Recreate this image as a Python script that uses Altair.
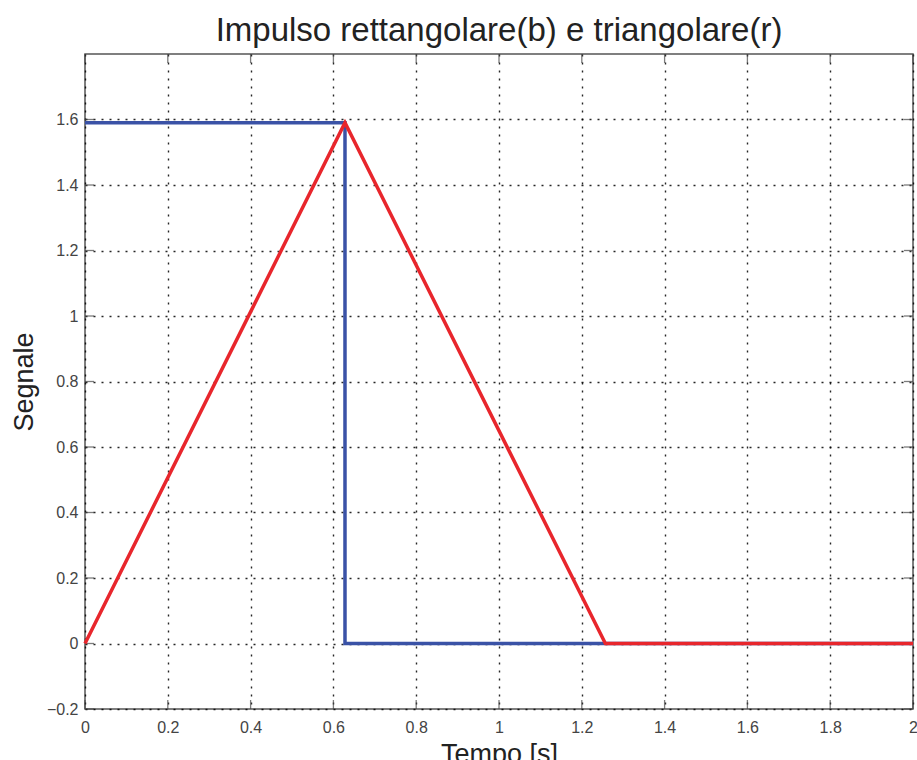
import altair as alt
import pandas as pd

# Rectangular pulse (blue) and triangular pulse (red), time in seconds
t_rect = [0.0, 0.628, 0.628, 2.0]
v_rect = [1.59, 1.59, 0.0, 0.0]
t_tri = [0.0, 0.628, 1.257, 2.0]
v_tri = [0.0, 1.59, 0.0, 0.0]

x_ticks = [0, 0.2, 0.4, 0.6, 0.8, 1.0, 1.2, 1.4, 1.6, 1.8, 2.0]
y_ticks = [-0.2, 0, 0.2, 0.4, 0.6, 0.8, 1.0, 1.2, 1.4, 1.6]

W, H = 828, 655

rect_df = pd.DataFrame({"t": t_rect, "v": v_rect, "i": range(len(t_rect))})
tri_df = pd.DataFrame({"t": t_tri, "v": v_tri, "i": range(len(t_tri))})
xt_df = pd.DataFrame({"t": x_ticks})
yt_df = pd.DataFrame({"v": y_ticks})

xscale = alt.Scale(domain=[0, 2], nice=False, zero=False)
yscale = alt.Scale(domain=[-0.2, 1.8], nice=False, zero=False)

x_axis = alt.Axis(
    values=x_ticks, format=".1~f", grid=True, tickSize=0, labelPadding=10,
    labelFontSize=16, labelColor="#444444", labelFont="Liberation Sans",
    title="Tempo [s]", titleFontSize=27, titleFontWeight="normal",
    titleFont="Liberation Sans", titleColor="#222222",
    titleBaseline="top", titleY=32,
    domain=False, labelOverlap=False, labelFlush=False,
)
y_axis = alt.Axis(
    values=y_ticks, format=".1~f", grid=True, tickSize=0, labelPadding=7,
    labelFontSize=16, labelColor="#444444", labelFont="Liberation Sans",
    title="Segnale", titleFontSize=27, titleFontWeight="normal",
    titleFont="Liberation Sans", titleColor="#222222",
    titleX=-47, titleY=H / 2, titleAngle=-90, titleBaseline="bottom",
    titleAlign="center",
    domain=False, labelOverlap=False,
)

rect_line = alt.Chart(rect_df).mark_line(
    color="#3a52a6", strokeWidth=3.5, strokeJoin="miter"
).encode(
    x=alt.X("t:Q", scale=xscale, axis=x_axis),
    y=alt.Y("v:Q", scale=yscale, axis=y_axis),
    order="i:O",
)

tri_line = alt.Chart(tri_df).mark_line(
    color="#e8262c", strokeWidth=3.5, strokeJoin="miter"
).encode(
    x=alt.X("t:Q", scale=xscale),
    y=alt.Y("v:Q", scale=yscale),
    order="i:O",
)

# Inward tick marks on all four sides of the frame
tick_style = dict(color="#444444", thickness=1.3, size=9)
bottom_ticks = alt.Chart(xt_df).mark_tick(orient="vertical", yOffset=-4.5, **tick_style).encode(
    x=alt.X("t:Q", scale=xscale), y=alt.datum(-0.2, scale=yscale)
)
top_ticks = alt.Chart(xt_df).mark_tick(orient="vertical", yOffset=4.5, **tick_style).encode(
    x=alt.X("t:Q", scale=xscale), y=alt.datum(1.8, scale=yscale)
)
left_ticks = alt.Chart(yt_df).mark_tick(orient="horizontal", xOffset=4.5, **tick_style).encode(
    y=alt.Y("v:Q", scale=yscale), x=alt.datum(0, scale=xscale)
)
right_ticks = alt.Chart(yt_df).mark_tick(orient="horizontal", xOffset=-4.5, **tick_style).encode(
    y=alt.Y("v:Q", scale=yscale), x=alt.datum(2, scale=xscale)
)

chart = alt.layer(
    bottom_ticks, top_ticks, left_ticks, right_ticks, rect_line, tri_line
).properties(
    width=W, height=H,
    title=alt.TitleParams(
        "Impulso rettangolare(b) e triangolare(r)",
        fontSize=33, fontWeight="normal", font="Liberation Sans",
        color="#222222", anchor="middle", offset=6,
    ),
    autosize=alt.AutoSizeParams(type="none"),
    padding={"left": 85, "top": 54, "right": 4, "bottom": 51},
    background="white",
).configure_view(
    stroke="#555555", strokeWidth=1.5
).configure_axis(
    gridColor="#000000", gridDash=[2, 6], gridWidth=1.4, gridOpacity=0.85
)

chart.save("out.html", embed_options={"renderer": "svg", "actions": False})
